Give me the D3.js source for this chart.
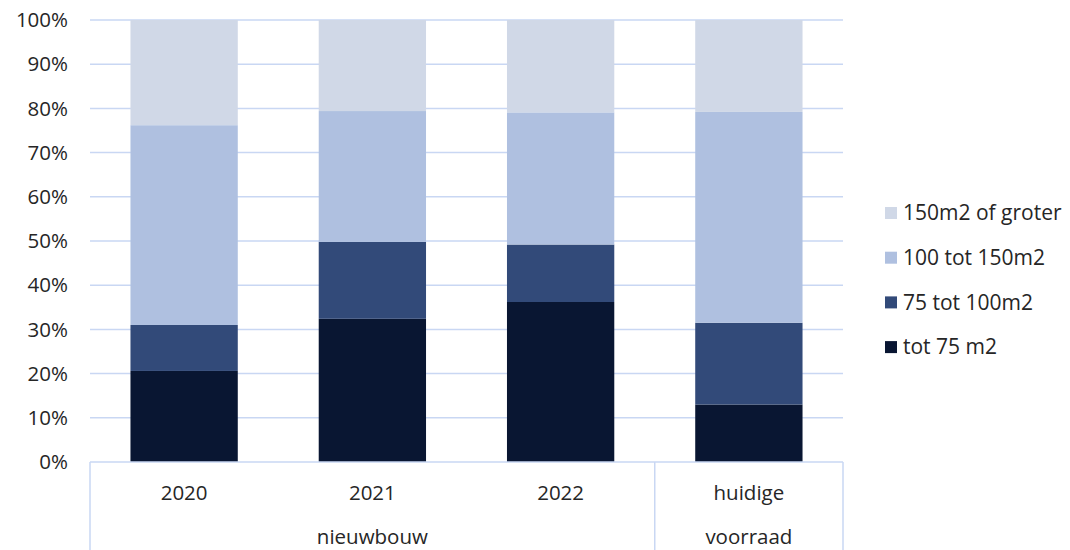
<!DOCTYPE html>
<html><head><meta charset="utf-8">
<script src="https://cdn.jsdelivr.net/npm/d3@7"></script>
<style>body{margin:0;background:#fff;}svg{display:block;font-family:"Open Sans","Noto Sans",sans-serif;}</style>
</head><body>
<svg id="c" width="1070" height="550"></svg>
<script>
const categories = ["2020", "2021", "2022", "huidige voorraad"];
const groups = [{label: "nieuwbouw", from: 0, to: 2}, {label: "", from: 3, to: 3}];
const seriesNames = ["tot 75 m2", "75 tot 100m2", "100 tot 150m2", "150m2 of groter"];
const tot75 = [20.6, 32.4, 36.2, 13.0];
const s75to100 = [10.4, 17.4, 13.0, 18.5];
const s100to150 = [45.2, 29.6, 29.9, 47.7];
const s150plus = [23.8, 20.6, 20.9, 20.8];
const yTicks = [0, 10, 20, 30, 40, 50, 60, 70, 80, 90, 100];
const colors = ["#091632", "#324a79", "#afc0e0", "#d0d8e7"];

const svg = d3.select("#c");
const L = 90, R = 843, T = 20, B = 462;
const FS = 20.5;
const x = d3.scaleBand().domain(categories).range([L, R]).paddingInner(0.43).paddingOuter(0.215);
const y = d3.scaleLinear().domain([0, 100]).range([B, T]);

// gridlines
svg.append("g").selectAll("line").data(yTicks.filter(d => d > 0)).join("line")
  .attr("x1", L).attr("x2", R).attr("y1", d => y(d)).attr("y2", d => y(d))
  .attr("stroke", "#c9d7f3").attr("stroke-width", 1.5);

// y labels
svg.append("g").selectAll("text").data(yTicks).join("text")
  .attr("x", 68).attr("y", d => y(d)).attr("dy", "0.35em").attr("text-anchor", "end")
  .attr("font-size", FS).attr("fill", "#262626").text(d => d + "%");

// stacked bars
const rows = categories.map((c, i) => ({cat: c, v: [tot75[i], s75to100[i], s100to150[i], s150plus[i]]}));
const stackData = rows.map(r => { const o = {cat: r.cat}; seriesNames.forEach((s, j) => o[s] = r.v[j]); return o; });
const stacked = d3.stack().keys(seriesNames)(stackData);
svg.append("g").selectAll("g").data(stacked).join("g").attr("fill", (d, i) => colors[i])
  .selectAll("rect").data(d => d).join("rect")
  .attr("x", d => x(d.data.cat)).attr("width", x.bandwidth())
  .attr("y", d => y(d[1])).attr("height", d => y(d[0]) - y(d[1]));

// axis line and group separators
const ax = svg.append("g").attr("stroke", "#c9d7f3").attr("stroke-width", 1.5);
ax.append("line").attr("x1", L).attr("x2", R).attr("y1", B).attr("y2", B);
const step = x.step();
const seps = [L, L + step * 3, R];
ax.selectAll("line.sep").data(seps).join("line").attr("class", "sep")
  .attr("x1", d => d).attr("x2", d => d).attr("y1", B).attr("y2", 550);

// category labels
categories.forEach((c, i) => {
  const cx = x(c) + x.bandwidth() / 2;
  const label = c === "huidige voorraad" ? "huidige" : c;
  svg.append("text").attr("x", cx).attr("y", 493).attr("dy", "0.35em").attr("text-anchor", "middle")
    .attr("font-size", FS).attr("fill", "#262626").text(label);
  if (c === "huidige voorraad") {
    svg.append("text").attr("x", cx).attr("y", 537).attr("dy", "0.35em").attr("text-anchor", "middle")
      .attr("font-size", FS).attr("fill", "#262626").text("voorraad");
  }
});
groups.filter(g => g.label).forEach(g => {
  const cx = (x(categories[g.from]) + x(categories[g.to]) + x.bandwidth()) / 2;
  svg.append("text").attr("x", cx).attr("y", 537).attr("dy", "0.35em").attr("text-anchor", "middle")
    .attr("font-size", FS).attr("fill", "#262626").text(g.label);
});

// legend (reverse order)
const legendItems = seriesNames.map((s, i) => ({s, c: colors[i]})).reverse();
const lg = svg.append("g").selectAll("g").data(legendItems).join("g")
  .attr("transform", (d, i) => `translate(885, ${213 + i * 44.7})`);
lg.append("rect").attr("x", 0).attr("y", -6).attr("width", 12).attr("height", 12).attr("fill", d => d.c);
lg.append("text").attr("x", 18).attr("dy", "0.35em").attr("font-size", 21).attr("fill", "#262626").text(d => d.s);
</script>
</body></html>
